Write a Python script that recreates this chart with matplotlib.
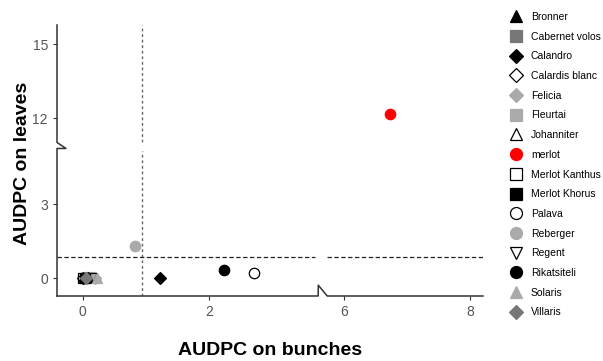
import numpy as np
import matplotlib
matplotlib.use("Agg")
import matplotlib.pyplot as plt
from matplotlib.lines import Line2D

plt.rcParams['font.family'] = ['Liberation Sans', 'DejaVu Sans']

# data
varieties = ["Bronner", "Cabernet volos", "Calandro", "Calardis blanc", "Felicia",
             "Fleurtai", "Johanniter", "merlot", "Merlot Kanthus", "Merlot Khorus",
             "Palava", "Reberger", "Regent", "Rikatsiteli", "Solaris", "Villaris"]
bunches = [0.02, 0.05, 1.22, 0.0, 0.20, 0.10, 0.08, 6.73, 0.0, 0.03,
           2.71, 0.83, 0.15, 2.24, 0.22, 0.05]
leaves = [0.05, 0.0, 0.0, 0.0, 0.0, 0.05, 0.05, 12.17, 0.0, 0.0,
          0.20, 1.32, 0.0, 0.34, 0.02, 0.0]
markers = ["^", "s", "D", "D", "D", "s", "^", "o", "s", "s",
           "o", "o", "v", "o", "^", "D"]
faces = ["black", "#777777", "black", "none", "#aaaaaa", "#aaaaaa", "none", "red",
         "none", "black", "none", "#aaaaaa", "none", "black", "#aaaaaa", "#777777"]
edges = ["black", "#777777", "black", "black", "#aaaaaa", "#aaaaaa", "black", "red",
         "black", "black", "black", "#aaaaaa", "black", "black", "#aaaaaa", "#777777"]

mean_bunches = 0.93
mean_leaves = 0.84

# axis breaks: (start, end, size of the compressed gap)
xgap = (3.73, 5.73, 0.143)
ygap = (5.26, 11.01, 0.245)


def make_break(a, b, g):
    k = g / (b - a)

    def fwd(v):
        v = np.asarray(v, dtype=float)
        return np.where(v <= a, v, np.where(v >= b, v - (b - a) + g, a + (v - a) * k))

    def inv(u):
        u = np.asarray(u, dtype=float)
        return np.where(u <= a, u, np.where(u >= a + g, u + (b - a) - g, a + (u - a) / k))

    return fwd, inv


fig = plt.figure(figsize=(6.03, 3.61), dpi=100)
ax = fig.add_axes([57 / 603, 1 - 296 / 361, 426 / 603, 271 / 361])
ax.set_xscale('function', functions=make_break(*xgap))
ax.set_yscale('function', functions=make_break(*ygap))
xmin, xmax = -0.41, 8.2
ymin, ymax = -0.73, 15.78
ax.set_xlim(xmin, xmax)
ax.set_ylim(ymin, ymax)

# reference lines, drawn per segment like the original
for lo, hi in [(ymin, ygap[0] - 0.1), (ygap[1], ymax)]:
    ax.plot([mean_bunches, mean_bunches], [lo, hi], color="#666666",
            linestyle=(0, (2, 2)), lw=1)
for lo, hi in [(xmin, xgap[0] - 0.05), (xgap[1], xmax)]:
    ax.plot([lo, hi], [mean_leaves, mean_leaves], color="#222222",
            linestyle=(0, (3.5, 2)), lw=0.9)

for x, y, m, fc, ec, lab in zip(bunches, leaves, markers, faces, edges, varieties):
    ms = 7.5 if m == "o" else (6 if m == "D" else 7)
    ax.plot([x], [y], linestyle="none", marker=m, ms=ms, mfc=fc, mec=ec, mew=0.9, label=lab)

# axis lines with break marks
for s in ax.spines.values():
    s.set_visible(False)
ty = ax.get_yaxis_transform()
ax.add_line(Line2D([0, 0, 0.021, 0, 0], [ymin, ygap[0], ygap[0] + 0.04, ygap[1], ymax],
                   transform=ty, color="#333333", lw=1.1, clip_on=False))
tx = ax.get_xaxis_transform()
ax.add_line(Line2D([xmin, xgap[0], xgap[0] + 0.03, xgap[1], xmax], [0, 0, 0.04, 0, 0],
                   transform=tx, color="#333333", lw=1.1, clip_on=False))

ax.set_xticks([0, 2, 6, 8])
ax.set_yticks([0, 3, 12, 15])
ax.xaxis.set_minor_locator(matplotlib.ticker.NullLocator())
ax.yaxis.set_minor_locator(matplotlib.ticker.NullLocator())
ax.tick_params(length=3, width=0.8, color="#333333", labelcolor="#555555", labelsize=10)

ax.set_xlabel("AUDPC on bunches", fontsize=14, fontweight="bold")
ax.set_ylabel("AUDPC on leaves", fontsize=14, fontweight="bold")
ax.xaxis.set_label_coords(0.5, -0.20)
ax.yaxis.set_label_coords(-0.082, 0.49)
ax.xaxis.label.set_va("center")
ax.yaxis.label.set_va("center")

handles, labels = ax.get_legend_handles_labels()
fig.legend(handles, labels, loc="upper left", bbox_to_anchor=(508 / 603, 1 - 12 / 361),
           frameon=False, fontsize=7.5, labelspacing=0.93, handletextpad=0.7,
           handlelength=1.5, markerscale=1.15, borderaxespad=0, borderpad=0)

fig.savefig("out.png", dpi=100)
